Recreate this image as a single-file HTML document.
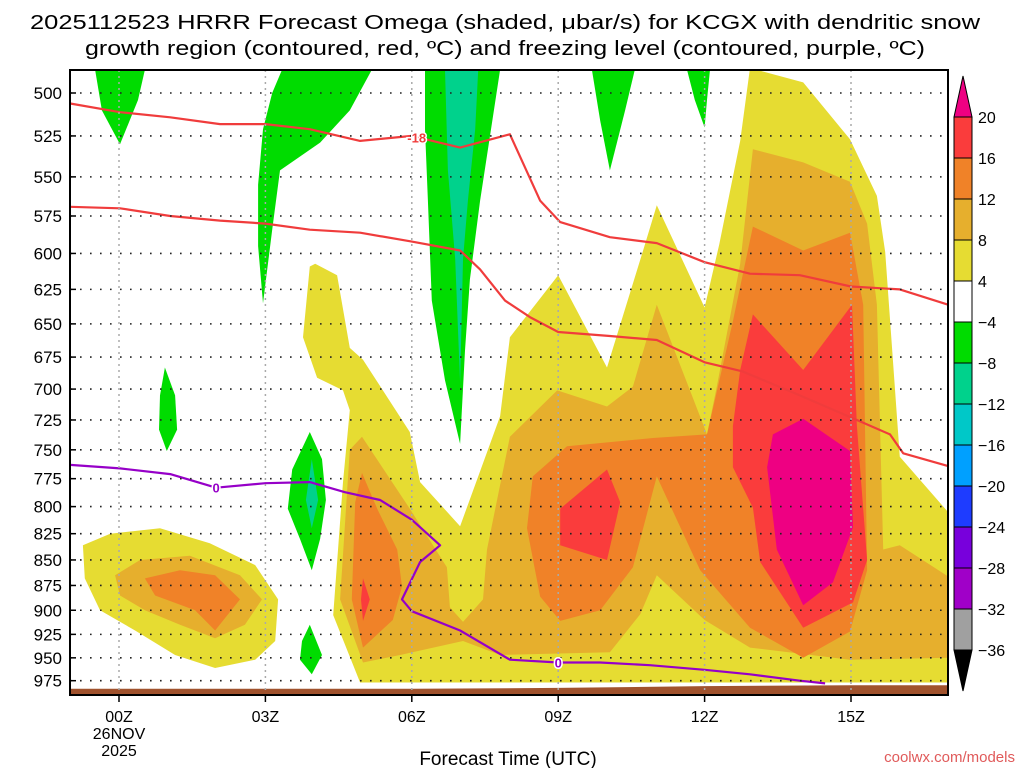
<!DOCTYPE html>
<html><head><meta charset="utf-8"><style>
html,body{margin:0;padding:0;background:#fff;}
svg{display:block;font-family:"Liberation Sans",sans-serif;}
</style></head><body>
<svg id="chart" width="1024" height="768" viewBox="0 0 1024 768" xmlns="http://www.w3.org/2000/svg">
<text x="505" y="29" font-size="20" text-anchor="middle" textLength="950" lengthAdjust="spacingAndGlyphs">2025112523 HRRR Forecast Omega (shaded, μbar/s) for KCGX with dendritic snow</text>
<text x="505" y="55" font-size="20" text-anchor="middle" textLength="840" lengthAdjust="spacingAndGlyphs">growth region (contoured, red, ºC) and freezing level (contoured, purple, ºC)</text>
<g id="plot"></g>
<g id="cbar"></g>
<text x="508" y="765" font-size="19" text-anchor="middle">Forecast Time (UTC)</text>
<text x="1015" y="762" font-size="15" fill="#e05a5a" text-anchor="end">coolwx.com/models</text>
</svg>
<script>
// ---- data ----
const pressureTicks=[500,525,550,575,600,625,650,675,700,725,750,775,800,825,850,875,900,925,950,975];
const hourTicks=[0,3,6,9,12,15];
const hourLabels=["00Z","03Z","06Z","09Z","12Z","15Z"];
const cbarLevels=[20,16,12,8,4,-4,-8,-12,-16,-20,-24,-28,-32,-36];
const cbarColors=["#fa3c3c","#f08228","#e6af2d","#e6dc32","#ffffff","#00dc00","#00d28c","#00c8c8","#00a0ff","#1e3cff","#7800dc","#a000c8","#a0a0a0"];
const yellowMain=[[4.02,607],[4.47,615],[4.73,668],[5.0,677],[5.96,735],[6.17,778],[6.99,818],[7.81,722],[8.01,660],[9.0,615],[10.0,683],[10.74,598],[11.02,568],[12.0,638],[12.3,594],[12.73,528],[12.93,486],[14.02,494],[14.98,527],[15.53,562],[15.7,599],[16.0,756],[16.99,805],[16.99,977],[4.94,977],[4.39,905],[4.59,778],[4.73,717],[4.59,701],[4.06,691],[3.77,660],[3.91,609]];
const yellowLeft=[[-0.74,836],[-0.18,825],[0.84,820],[1.86,834],[2.79,855],[3.26,889],[3.2,932],[2.79,952],[1.97,961],[1.15,947],[0.33,921],[-0.39,900],[-0.7,868]];
const lightOrangeMain=[[12.99,533],[14.02,541],[14.98,553],[15.33,580],[15.53,636],[15.66,840],[16.0,836],[16.99,866],[16.99,950],[14.98,952],[12.93,939],[12.0,910],[11.02,865],[10.68,904],[10.06,944],[7.81,947],[7.05,932],[5.76,947],[5.0,955],[4.53,889],[4.73,750],[4.98,739],[5.96,802],[6.72,857],[6.78,897],[7.05,912],[7.46,889],[7.54,840],[8.01,739],[8.98,701],[10.0,714],[10.53,698],[11.02,636],[12.05,737],[12.25,698],[12.73,607]];
const lightOrangeLeft=[[-0.08,865],[0.43,850],[1.45,846],[2.48,865],[2.93,889],[2.58,915],[1.97,929],[1.25,915],[0.53,900],[0.02,885]];
const orangeMain=[[12.99,582],[14.02,598],[14.98,586],[15.25,636],[15.33,860],[14.98,922],[14.02,950],[12.93,918],[11.91,860],[11.02,773],[10.53,857],[9.86,900],[9.04,911],[8.63,886],[8.36,820],[8.48,773],[9.18,747],[10.94,740],[12.05,737],[12.58,648]];
const orange05=[[4.98,770],[5.29,802],[5.7,840],[5.8,876],[5.61,910],[5.0,939],[4.77,889],[4.84,796]];
const orangeLeft=[[0.53,868],[1.25,860],[1.97,865],[2.48,889],[1.97,921],[1.56,900],[0.74,885]];
const redMain=[[12.99,643],[14.02,685],[15.02,636],[15.12,730],[15.33,850],[15.04,892],[14.02,918],[13.14,852],[12.99,801],[12.58,765],[12.58,730],[12.73,685]];
const red09=[[10.0,767],[10.27,796],[10.0,850],[9.04,836],[9.04,802]];
const red05=[[5.0,868],[5.14,889],[5.0,911],[4.96,889]];
const magentaCore=[[14.02,724],[14.98,751],[15.04,819],[14.63,872],[14.02,895],[13.48,840],[13.28,765],[13.4,737]];
const green1=[[-0.49,487],[0.53,487],[0.39,504],[0.02,530],[-0.35,510]];
const green2=[[3.34,487],[5.18,487],[4.73,510],[4.12,529],[3.3,546],[3.14,584],[2.95,635],[2.85,595],[2.85,555],[2.95,521],[3.14,500]];
const green3=[[6.27,487],[7.81,487],[7.64,518],[7.4,565],[7.19,618],[7.09,670],[6.99,745],[6.68,693],[6.41,633],[6.33,565],[6.27,521]];
const teal3=[[6.68,487],[7.36,487],[7.3,521],[7.15,565],[7.05,604],[6.99,695],[6.89,604],[6.74,546]];
const green4=[[9.69,487],[10.57,487],[10.37,510],[10.06,546],[9.86,516]];
const green5=[[11.64,487],[12.11,487],[12.05,504],[12.0,520],[11.8,504]];
const green6=[[0.94,683],[1.15,705],[1.19,733],[0.98,751],[0.82,733],[0.84,705]];
const green7=[[3.91,735],[4.16,758],[4.24,794],[4.12,830],[3.95,860],[3.71,830],[3.46,802],[3.55,767]];
const teal7=[[3.95,758],[4.08,794],[3.95,820],[3.83,794]];
const green8=[[3.91,915],[4.16,947],[3.95,968],[3.71,952],[3.75,932]];
const iso18=[[-1,506],[0.02,511],[1.05,514],[2.07,518],[3.0,518],[3.91,521],[4.94,528],[6.0,525],[6.99,532],[8.01,524],[8.63,565],[9.04,579],[10.06,589],[11.02,593],[12.0,606],[12.93,614],[13.95,615],[15.0,623],[16.0,625],[16.99,636]];
const iso12=[[-1,569],[0.02,570],[1.05,575],[2.07,578],[3.0,580],[3.91,584],[4.94,586],[6.0,592],[6.99,598],[7.4,611],[7.91,633],[8.42,645],[9.0,656],[10.06,659],[11.02,662],[12.0,679],[12.77,686],[13.95,705],[15.18,726],[15.8,737],[16.07,753],[16.99,764]];
const freezing=[[-1,763],[0.02,766],[1.05,771],[1.99,783],[3.0,779],[3.91,778],[4.63,787],[5.35,794],[6.0,812],[6.58,836],[6.17,852],[5.8,889],[6.0,901],[6.99,921],[8.01,952],[9.0,955],[9.86,955],[10.88,958],[12.0,963],[12.93,968],[13.95,975],[14.47,978]];
const terrainHours=[-1,6,9,12,15,17];
const terrainP=[984,984,983,981,980,980];

// ---- axes ----
const X0=70,X1=948,Y0=70,Y1=695;
function xs(h){return 119+(h-0)*48.8;}
function ys(p){return 93+880*Math.log(p/500);}
const NS="http://www.w3.org/2000/svg";
const plotG=document.getElementById('plot');
function mk(tag,attrs,parent){const e=document.createElementNS(NS,tag);for(const k in attrs)e.setAttribute(k,attrs[k]);(parent||plotG).appendChild(e);return e;}
function pts(arr){return arr.map(d=>xs(d[0]).toFixed(1)+","+ys(d[1]).toFixed(1)).join(" ");}

const defsEl=mk('defs',{});
const cp=mk('clipPath',{id:'clip'},defsEl);
mk('rect',{x:X0,y:Y0,width:X1-X0,height:Y1-Y0},cp);
const field=mk('g',{'clip-path':'url(#clip)'});



const layers=[
 [yellowMain,"#e6dc32","omega-4-8-main"],[yellowLeft,"#e6dc32","omega-4-8-left"],
 [lightOrangeMain,"#e6af2d","omega-8-12-main"],[lightOrangeLeft,"#e6af2d","omega-8-12-left"],
 [orangeMain,"#f08228","omega-12-16-main"],[orange05,"#f08228","omega-12-16-05z"],[orangeLeft,"#f08228","omega-12-16-left"],
 [redMain,"#fa3c3c","omega-16-20-main"],[red09,"#fa3c3c","omega-16-20-09z"],[red05,"#fa3c3c","omega-16-20-05z"],
 [magentaCore,"#ee0082","omega-above-20"],
 [green1,"#00dc00","omega-neg4-8-a"],[green2,"#00dc00","omega-neg4-8-b"],[green3,"#00dc00","omega-neg4-8-c"],
 [teal3,"#00d28c","omega-neg8-12-c"],[green4,"#00dc00","omega-neg4-8-d"],[green5,"#00dc00","omega-neg4-8-e"],
 [green6,"#00dc00","omega-neg4-8-f"],[green7,"#00dc00","omega-neg4-8-g"],[teal7,"#00d28c","omega-neg8-12-g"],[green8,"#00dc00","omega-neg4-8-h"]
];
layers.forEach(L=>{
 const e=mk('polygon',{points:pts(L[0]),fill:L[1]},field);
 
 
});
const tpts=terrainHours.map((h,i)=>[h,terrainP[i]]);
const terr=mk('polygon',{points:pts(tpts)+" "+xs(17)+","+Y1+" "+xs(-1)+","+Y1,fill:"#a0522d"},field);



pressureTicks.forEach(p=>{
 const g=mk('line',{x1:X0,x2:X1,y1:ys(p),y2:ys(p),stroke:"#222","stroke-width":1.6,"stroke-dasharray":"1.6,8.4"});
 
 
 const t=mk('text',{x:62,y:ys(p)+6,"font-size":17,"text-anchor":"end"});
 t.textContent=p;
 
 
 mk('line',{x1:X0,x2:X0+6,y1:ys(p),y2:ys(p),stroke:"#000","stroke-width":1.5});
});
hourTicks.forEach((h,i)=>{
 const g=mk('line',{x1:xs(h),x2:xs(h),y1:Y0,y2:Y1,stroke:"#aaa","stroke-width":1.5,"stroke-dasharray":"2,4"});
 
 
 mk('line',{x1:xs(h),x2:xs(h),y1:Y1,y2:Y1+7,stroke:"#000","stroke-width":1.5});
 const t=mk('text',{x:xs(h),y:722,"font-size":16,"text-anchor":"middle"});
 t.textContent=hourLabels[i];
 
 
});
const d1=mk('text',{x:xs(0),y:739,"font-size":16,"text-anchor":"middle"});d1.textContent="26NOV";


const d2=mk('text',{x:xs(0),y:756,"font-size":16,"text-anchor":"middle"});d2.textContent="2025";



function drawLine(arr,color,name){
 const e=mk('polyline',{points:pts(arr),fill:"none",stroke:color,"stroke-width":2.2,"stroke-linejoin":"round"},field);
 
 
}
drawLine(iso18,"#f03c3c","isotherm-minus18");
drawLine(iso12,"#f03c3c","isotherm-minus12");
drawLine(freezing,"#9600c8","freezing-level");
function lab(h,p,txt,color,name){
 const t=mk('text',{x:xs(h),y:ys(p)+5,"font-size":13,"font-weight":"bold",fill:color,"text-anchor":"middle",stroke:"#fff","stroke-width":3,"paint-order":"stroke"});
 t.textContent=txt;
 
 
}
lab(6.1,526,"-18","#f03c3c","isotherm-label-minus18");
lab(1.99,783,"0","#9600c8","freezing-label-1");
lab(9.0,955,"0","#9600c8","freezing-label-2");

const border=mk('rect',{x:X0,y:Y0,width:X1-X0,height:Y1-Y0,fill:"none",stroke:"#000","stroke-width":2});



const cb=document.getElementById('cbar');
const CX=954,CW=18,CT=117,CS=41;
const cbTop=mk('polygon',{points:`${CX},${CT} ${CX+CW},${CT} ${CX+CW/2},76`,fill:"#ee0082",stroke:"#000","stroke-width":1},cb);


cbarColors.forEach((c,i)=>{
 const r=mk('rect',{x:CX,y:CT+i*CS,width:CW,height:CS,fill:c,stroke:"#000","stroke-width":1},cb);
 
 
});
const cbBot=mk('polygon',{points:`${CX},${CT+13*CS} ${CX+CW},${CT+13*CS} ${CX+CW/2},691`,fill:"#000",stroke:"#000","stroke-width":1},cb);


cbarLevels.forEach((v,i)=>{
 const t=mk('text',{x:978,y:CT+i*CS+6,"font-size":16},cb);
 t.textContent=v<0?"\u2212"+Math.abs(v):v;
 
 
});
</script>
</body></html>
